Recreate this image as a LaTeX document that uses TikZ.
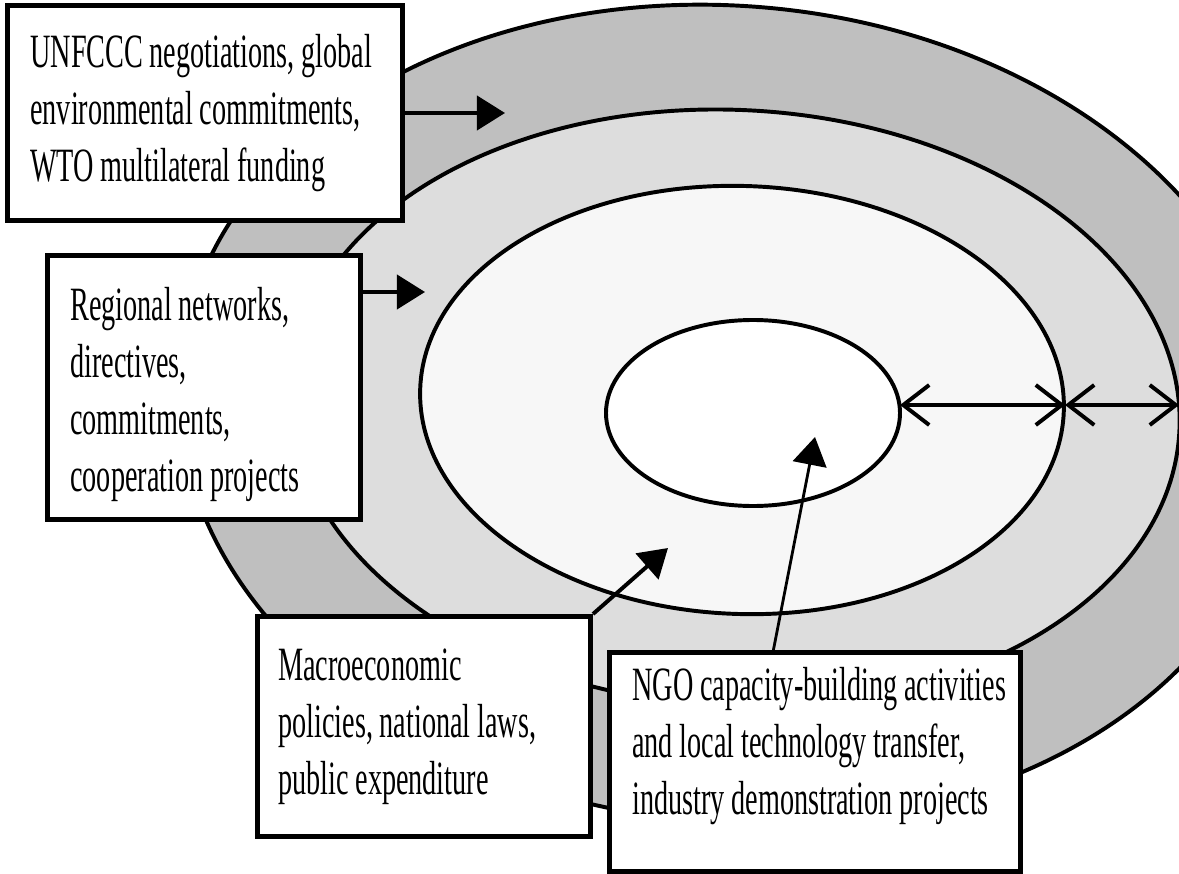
\documentclass[tikz,border=0pt]{standalone}
\usepackage{fontspec}
\setmainfont{Liberation Serif}[FakeStretch=0.59, WordSpace=0.95]
\usepackage{tikz}
\usetikzlibrary{arrows.meta, positioning, calc}
\definecolor{ringout}{RGB}{191,191,191}
\definecolor{ringmid}{RGB}{221,221,221}
\definecolor{ringin}{RGB}{247,247,247}
\tikzset{
  infobox/.style={rectangle, draw=black, fill=white, line width=3.5pt,
    anchor=north west, inner sep=0pt},
  boxtext/.style={align=left, inner sep=0pt,
    font=\fontsize{34}{40.5}\selectfont},
  ring/.style={draw=black, line width=2.8pt},
  push/.style={-{Triangle[length=0.7cm, width=0.85cm]}, line width=2.8pt},
  spread/.style={{Straight Barb[length=0.65cm, width=1cm]}-{Straight Barb[length=0.65cm, width=1cm]}, line width=2.8pt}
}

\begin{document}
\begin{tikzpicture}[x=0.025cm, y=-0.025cm]
  \path[use as bounding box] (0,0) rectangle (1179,874);
  \clip (0,0) rectangle (1179,874);

  % Rings, outermost first
  \draw[ring, fill=ringout, rotate around={-5:(730,414)}] (730,414) ellipse [x radius=552, y radius=408];
  \draw[ring, fill=ringmid, rotate around={-3:(735,408)}] (735,408) ellipse [x radius=445, y radius=298];
  \draw[ring, fill=ringin, rotate around={-2:(742,400)}] (742,400) ellipse [x radius=322, y radius=214];
  \draw[ring, fill=white] (753,413) ellipse [x radius=147, y radius=93];

  % Points on the ring edges
  \coordinate (core) at (900,405);
  \coordinate (inner) at (1065,405);
  \coordinate (middle) at (1179,405);

  % Boxes
  \node[infobox, minimum width=9.875cm, minimum height=5.375cm] (global) at (5,3) {};
  \node[infobox, minimum width=7.825cm, minimum height=6.6cm] (regional) at (45,253) {};
  \node[infobox, minimum width=8.325cm, minimum height=5.5cm] (national) at (255,614) {};
  \node[infobox, minimum width=10.275cm, minimum height=5.475cm] (local) at (607,650) {};

  % Box texts
  \node[boxtext, right=0.625cm of global.west] (globaltext) {UNFCCC negotiations, global\\environmental commitments,\\WTO multilateral funding};
  \node[boxtext, right=0.625cm of regional.west, yshift=-0.175cm] (regionaltext) {Regional networks,\\directives,\\commitments,\\cooperation projects};
  \node[boxtext, right=0.575cm of national.west] (nationaltext) {Macroeconomic\\policies, national laws,\\public expenditure};
  \node[boxtext, right=0.625cm of local.west, yshift=0.4cm] (localtext) {NGO capacity-building activities\\and local technology transfer,\\industry demonstration projects};

  % Arrow tips
  \coordinate (globaltip) at (505,113);
  \coordinate (regionaltip) at (425,292);
  \coordinate (nationaltip) at (668,548);
  \coordinate (localtip) at (815,437);

  \draw[push] (global.east |- globaltip) -- (globaltip);
  \draw[push] (regional.east |- regionaltip) -- (regionaltip);
  \draw[push] (national.north east) -- (nationaltip);
  \draw[push, line width=2pt] ($(local.north west)!0.4!(local.north east)$) -- (localtip);

  % Spread across the rings
  \draw[spread] (core) -- (inner);
  \draw[spread] (inner) -- (middle);
\end{tikzpicture}
\end{document}
